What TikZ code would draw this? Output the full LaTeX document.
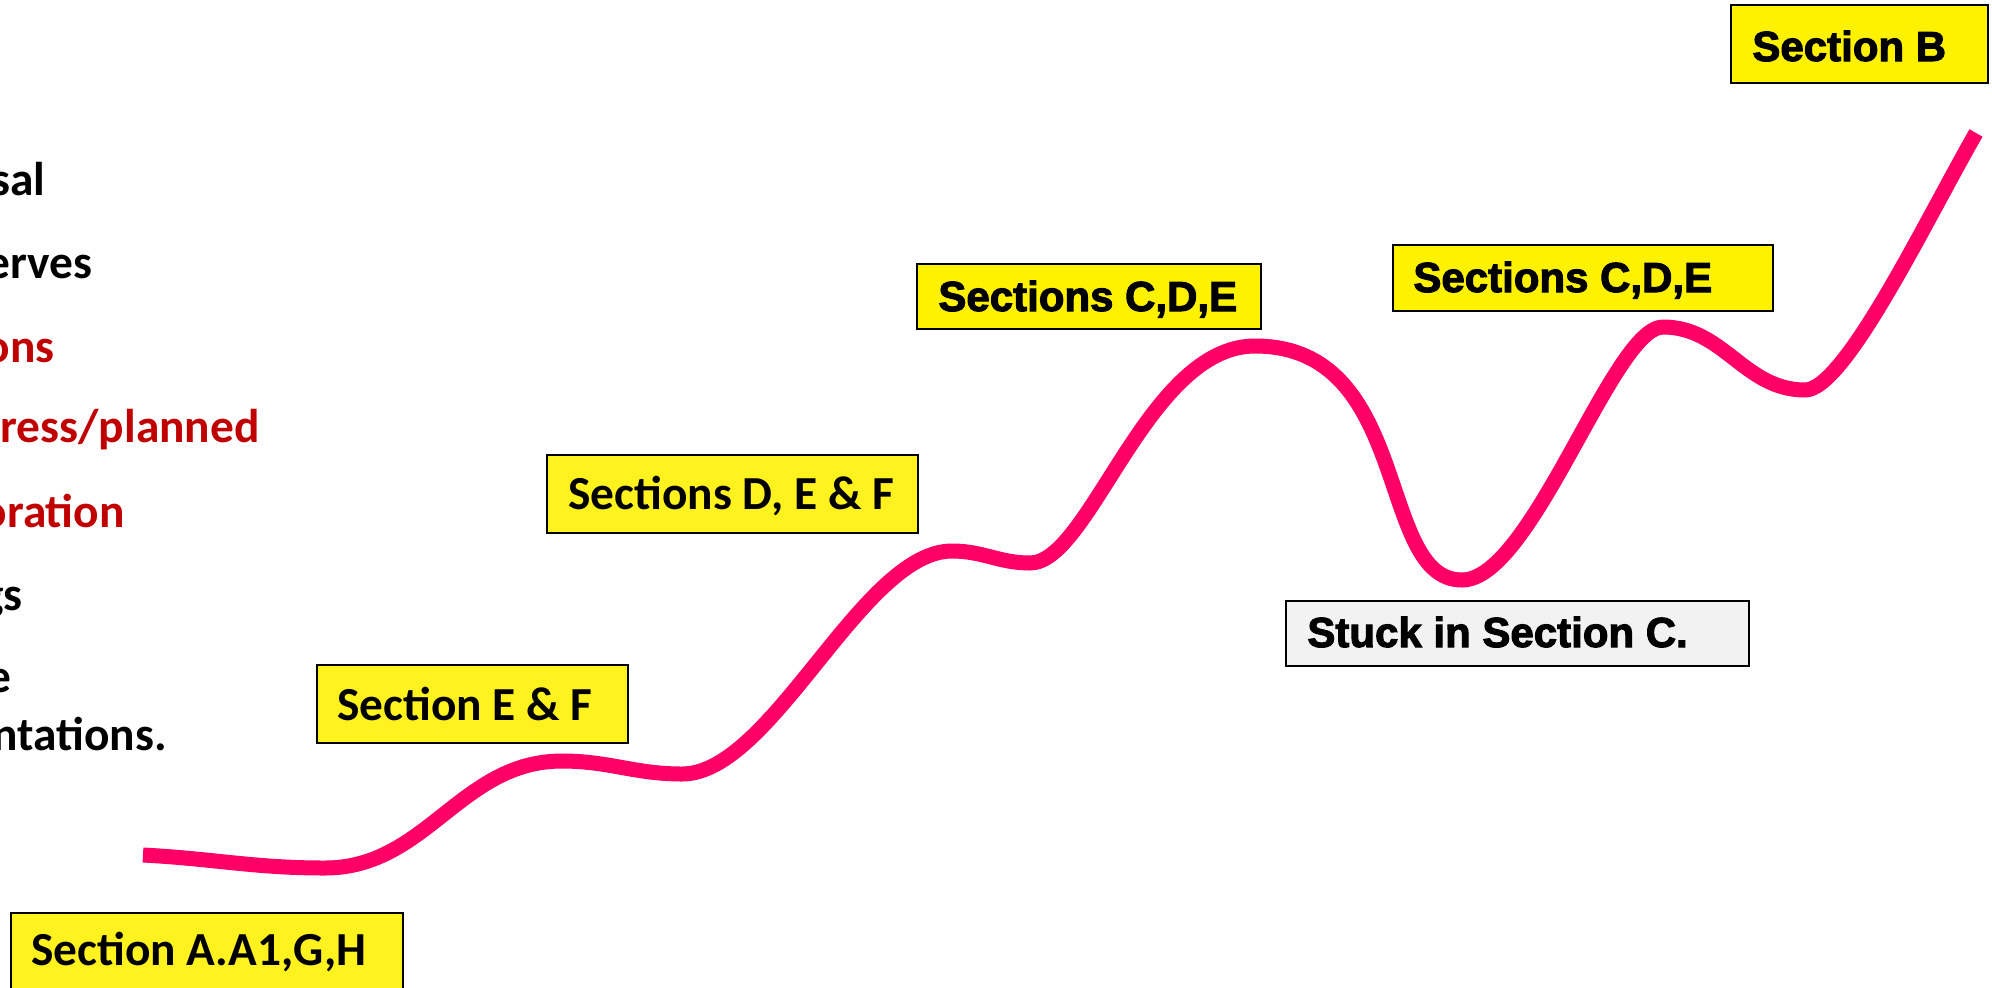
\documentclass[tikz,border=0pt]{standalone}
\usepackage{fontspec}
\setmainfont{Carlito}
\newfontfamily\blackfont{Liberation Sans}[BoldFeatures={FakeBold=2.5}]
\usepackage{tikz}
\usetikzlibrary{positioning}

\definecolor{trendpink}{RGB}{255,0,102}
\definecolor{calyellow}{RGB}{255,242,30}
\definecolor{boxgray}{RGB}{242,242,242}
\definecolor{darkred}{RGB}{192,0,0}

\tikzset{
	calbox/.style = {draw = black, line width = 0.8pt, fill = calyellow},
	blkbox/.style = {draw = black, line width = 0.8pt, fill = yellow},
	caltext/.style = {anchor = base west, inner sep = 0pt, font = \fontsize{23.7}{28}\selectfont\bfseries},
	blktext/.style = {anchor = base west, inner sep = 0pt, font = \blackfont\fontsize{21}{25}\selectfont\bfseries},
	sidetext/.style = {anchor = base east, inner sep = 0pt, font = \fontsize{23.7}{28}\selectfont\bfseries},
	trend/.style = {draw = trendpink, line width = 7.5pt, line join = round}
}

\begin{document}
\begin{tikzpicture}[x = 0.5pt, y = 0.5pt]

\useasboundingbox (0, 0) rectangle (1992, -987);

% cut-off list on the left
\node[sidetext] (l1) at (46, -195) {sal};
\node[sidetext] (l2) at (93, -278) {erves};
\node[sidetext, text = darkred] (l3) at (55, -362) {ons};
\node[sidetext, text = darkred] (l4) at (260, -442) {ress/planned};
\node[sidetext, text = darkred] (l5) at (125, -527) {oration};
\node[sidetext] (l6) at (23, -610) {gs};
\node[sidetext] (l7) at (12, -692) {e};
\node[sidetext] (l8) at (167, -750) {ntations.};

% boxes
\draw[calbox] (11, -913) rectangle (403, -991);
\draw[calbox] (317, -665) rectangle (628, -743);
\draw[calbox] (547, -455) rectangle (918, -533);
\draw[blkbox] (917, -264) rectangle (1261, -329);
\draw[blkbox] (1393, -245) rectangle (1773, -311);
\draw[blkbox, fill = boxgray] (1286, -601) rectangle (1749, -666);
\draw[blkbox] (1731, -5) rectangle (1988, -83);

\node[caltext] (secA) at (31, -965) {Section A.A1,G,H};
\node[caltext] (secEF) at (337, -720) {Section E \& F};
\node[caltext] (secDEF) at (568, -509) {Sections D, E \& F};
\node[blktext] (secCDEa) at (938, -311) {Sections C,D,E};
\node[blktext] (secCDEb) at (1413, -292) {Sections C,D,E};
\node[blktext] (stuck) at (1307, -647) {Stuck in Section C.};
\node[blktext] (secB) at (1752, -61) {Section B};

% the curve
\draw[trend] (143, -855) to[out = -3, in = 180] (325, -868)
	to[out = 0, in = 180] (562, -761)
	to[out = 0, in = 180] (682, -774)
	.. controls (772, -774) and (862, -551) .. (952, -551)
	to[out = 0, in = 180] (1030, -563)
	.. controls (1090, -563) and (1147, -346) .. (1255, -346)
	.. controls (1413, -346) and (1376, -580) .. (1462, -580)
	.. controls (1532, -580) and (1613, -327) .. (1663, -327)
	to[out = 0, in = 180] (1805, -390)
	.. controls (1845, -390) and (1926, -220) .. (1976, -133);

\end{tikzpicture}
\end{document}
